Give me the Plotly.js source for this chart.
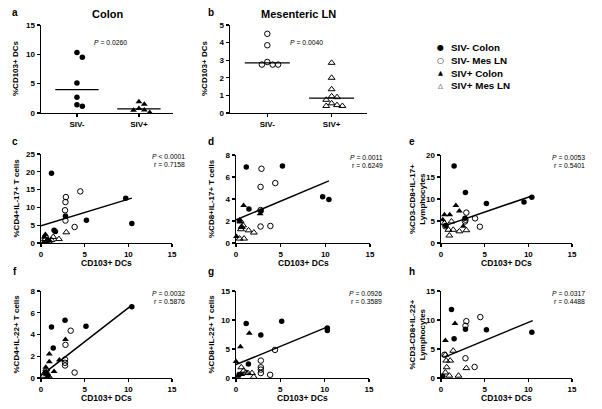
<!DOCTYPE html>
<html>
<head>
<meta charset="utf-8">
<script src="https://cdn.plot.ly/plotly-3.0.1.min.js"></script>
<style>
html, body {margin:0; padding:0; background:#fff;}
#plot {width:602px; height:409px;}
</style>
</head>
<body>
<div id="plot"></div>
<script>
// ---- a / b : %CD103+ DCs per group
const groupLabels = ['SIV-', 'SIV+'];
const colonNeg = [10.3, 9.5, 5.1, 2.7, 1.15, 1.4];
const colonPos = [1.9, 1.5, 0.45, 0.5, 0.75, 0.1];
const colonMedian = [4.0, 0.7];
const mesNeg = [4.5, 3.85, 2.75, 2.75, 2.75, 2.9];
const mesPos = [2.85, 2.0, 1.35, 0.95, 0.9, 0.75, 0.55, 0.45, 0.4, 0.4];
const mesMedian = [2.85, 0.85];
const pColon = '0.0260';
const pMes = '0.0040';

// ---- c..h : [CD103+ DCs, cytokine %] pairs
const cNegColon = [[1.2,19.6],[2.8,7.6],[5.2,6.4],[1.5,3.6],[1.65,3.2],[9.7,12.6],[10.4,5.5]];
const cNegMes = [[2.85,12.9],[2.8,11.5],[2.75,9.2],[2.8,6.3],[4.5,14.5],[3.85,4.5]];
const cPosColon = [[0.5,2.4],[0.4,1.6],[0.8,1.0],[0.6,0.4],[1.0,0.6],[0.3,0.2]];
const cPosMes = [[2.9,3.0],[1.4,1.7],[2.05,1.1],[0.5,2.0],[0.45,1.1],[0.7,0.7],[0.9,0.3],[1.2,0.8]];
const cFit = [[0, 10.4], [4.85, 12.6]];

const dNegColon = [[1.15,6.9],[5.2,7.0],[9.7,4.2],[10.4,3.95],[1.45,3.1],[2.8,2.9]];
const dNegMes = [[2.85,6.75],[4.4,5.45],[2.75,5.1],[2.75,3.0],[2.75,1.5],[3.85,1.55]];
const dPosColon = [[0.85,3.4],[2.7,2.65],[0.4,2.1],[0.05,0.6],[0.6,1.5],[0.45,1.9]];
const dPosMes = [[0.5,2.0],[0.65,1.45],[0.55,1.25],[0.8,1.6],[1.4,1.15],[2.0,0.95],[0.4,0.4],[0.9,0.4]];
const dFit = [[0, 10.4], [2.1, 5.65]];

const eNegColon = [[1.5,17.5],[2.8,11.5],[5.2,9.0],[9.5,9.3],[10.4,10.4],[2.75,5.6],[0.55,4.0]];
const eNegMes = [[2.9,6.9],[3.9,5.6],[2.75,4.9],[4.45,3.7],[2.8,5.3],[0.5,3.8]];
const ePosColon = [[1.7,8.5],[2.1,7.3],[1.0,6.4],[0.4,6.4],[0.2,5.3],[2.55,3.8]];
const ePosMes = [[1.2,4.9],[0.85,3.0],[1.4,3.0],[2.9,2.9],[2.1,2.65],[0.95,1.7],[0.4,4.5]];
const eFit = [[0.4, 10.4], [3.9, 10.7]];

const fNegColon = [[1.2,4.7],[2.75,5.3],[5.15,4.75],[10.4,6.55],[1.4,2.75],[0.8,0.2],[0.55,0.5]];
const fNegMes = [[3.4,4.35],[2.8,3.05],[2.75,1.7],[2.75,1.4],[2.75,1.15],[3.85,0.5]];
const fPosColon = [[2.8,3.55],[0.95,2.2],[0.95,1.5],[1.5,0.6],[2.1,1.65],[0.55,1.0]];
const fPosMes = [[0.55,0.6],[0.3,0.2],[0.7,0.35],[0.4,0.45],[0.9,0.15],[0.6,0.8]];
const fFit = [[0.3, 10.4], [0.4, 6.7]];

const gNegColon = [[1.15,9.4],[2.8,7.4],[5.15,9.8],[10.3,8.6],[10.3,8.2],[1.4,2.4],[0.35,0.6]];
const gNegMes = [[4.4,4.85],[2.8,3.0],[2.8,1.85],[2.8,1.45],[2.8,0.85],[3.85,0.55]];
const gPosColon = [[1.5,7.7],[0.5,5.4],[0.0,2.85],[0.65,0.6],[0.2,0.3]];
const gPosMes = [[0.6,1.85],[0.85,1.25],[1.1,0.95],[1.35,0.85],[1.8,0.85],[2.0,0.2]];
const gFit = [[0, 10.4], [2.3, 8.85]];

const hNegColon = [[1.2,11.8],[1.5,6.75],[2.8,8.4],[5.2,8.3],[10.4,7.9],[0.2,0.3]];
const hNegMes = [[2.8,9.0],[2.9,9.8],[4.5,10.5],[2.8,3.4],[3.85,1.9],[0.4,4.0]];
const hPosColon = [[1.6,9.4],[0.5,6.45]];
const hPosMes = [[1.4,4.7],[0.5,4.0],[0.6,3.0],[1.05,3.0],[0.65,1.85],[0.5,0.95],[0.95,0.4],[2.0,0.4],[2.9,1.7]];
const hFit = [[0.4, 10.5], [3.6, 9.9]];

const stats = {
  c: ['<i>P</i> < 0.0001', 'r = 0.7158'],
  d: ['<i>P</i> = 0.0011', 'r = 0.6249'],
  e: ['<i>P</i> = 0.0053', 'r = 0.5401'],
  f: ['<i>P</i> = 0.0032', 'r = 0.5876'],
  g: ['<i>P</i> = 0.0926', 'r = 0.3589'],
  h: ['<i>P</i> = 0.0317', 'r = 0.4488']
};
const yTitles = {
  c: '%CD4+IL-17+ T cells',
  d: '%CD8+IL-17+ T cells',
  e: '%CD3-CD8+IL-17+<br>Lymphocytes',
  f: '%CD4+IL-22+ T cells',
  g: '%CD8+IL-22+ T cells',
  h: '%CD3-CD8+IL-22+<br>Lymphocytes'
};
const legendLabels = ['SIV- Colon', 'SIV- Mes LN', 'SIV+ Colon', 'SIV+ Mes LN'];
const legendSymbols = ['\u25CF', '\u25CB', '\u25B2', '\u25B3'];

// ---------------------------------------------------------------
const W = 602, H = 409;
const F = 'Liberation Sans, Arial, sans-serif';
function px(x) { return x / W; }
function py(y) { return 1 - y / H; }

// plot boxes in pixels: [left, right, top, bottom]
const boxes = {
  a: [41, 173, 25, 113], b: [230, 367, 25, 113],
  c: [41, 172, 154, 243], d: [236, 370, 155, 243], e: [441, 572, 155, 243],
  f: [41, 172, 291, 378], g: [236, 369, 291, 378], h: [441, 572, 291, 378]
};
const panelIds = ['a', 'b', 'c', 'd', 'e', 'f', 'g', 'h'];

const symbols = ['circle', 'circle-open', 'triangle-up', 'triangle-up-open'];

const axisStyle = {
  showline: true, linecolor: '#000', linewidth: 1.4,
  ticks: 'outside', ticklen: 3, tickwidth: 1.2, tickcolor: '#000',
  showgrid: false, zeroline: false, fixedrange: true,
  tickfont: {family: F, size: 8, color: '#000', weight: 'bold'}
};

// simple beeswarm offset so dots with close values sit side by side
function swarm(vals, pxPerUnit, pxPerCat, size) {
  const placed = [];
  const off = new Array(vals.length).fill(0);
  const order = vals.map((v, i) => i).sort((a, b) => vals[b] - vals[a]);
  const cands = [0];
  for (let s = 1; s < 8; s++) cands.push(s * size, -s * size);
  order.forEach(i => {
    const y = vals[i] * pxPerUnit;
    let dx = 0;
    for (const c of cands) {
      if (placed.every(p => Math.hypot(p[0] - c, p[1] - y) >= size)) { dx = c; break; }
    }
    placed.push([dx, y]);
    off[i] = dx / pxPerCat;
  });
  return off;
}

function markerOf(k) {
  const open = k % 2 === 1;
  return {
    symbol: symbols[k], size: k >= 2 ? 6 : 5.5, color: '#000',
    line: {width: open ? 1 : 0, color: '#000'}
  };
}

const traces = [];
const layout = {
  width: W, height: H,
  margin: {l: 0, r: 0, t: 0, b: 0},
  paper_bgcolor: '#fff', plot_bgcolor: '#fff',
  showlegend: false,
  font: {family: F, color: '#000'},
  annotations: []
};

panelIds.forEach((id, i) => {
  const n = i === 0 ? '' : String(i + 1);
  const b = boxes[id];
  layout['xaxis' + n] = Object.assign({}, axisStyle, {
    domain: [px(b[0]), px(b[1])], anchor: 'y' + n
  });
  layout['yaxis' + n] = Object.assign({}, axisStyle, {
    domain: [py(b[3]), py(b[2])], anchor: 'x' + n
  });
});

function stepList(max, step) {
  const out = [];
  for (let v = 0; v <= max + 1e-9; v += step) out.push(v);
  return out;
}

// ---- a and b: dot plots with medians
function dotPanel(n, box, neg, pos, med, yMax, dtick, negSym, posSym) {
  const xr = [-0.58, 1.55];
  const pxPerCat = (box[1] - box[0]) / (xr[1] - xr[0]);
  const pxPerUnit = (box[3] - box[2]) / yMax;
  const ax = 'x' + n, ay = 'y' + n;
  [[neg, 0, negSym], [pos, 1, posSym]].forEach(([vals, c, k]) => {
    const off = swarm(vals, pxPerUnit, pxPerCat, 5.4);
    traces.push({
      x: vals.map((v, j) => c + off[j]), y: vals,
      xaxis: ax, yaxis: ay, mode: 'markers', cliponaxis: false,
      marker: markerOf(k), hoverinfo: 'y'
    });
    traces.push({
      x: [c - 0.35, c + 0.35], y: [med[c], med[c]],
      xaxis: ax, yaxis: ay, mode: 'lines', cliponaxis: false,
      line: {color: '#000', width: 1.2}, hoverinfo: 'skip'
    });
  });
  Object.assign(layout['xaxis' + n], {range: xr, tickvals: [0, 1], ticktext: groupLabels});
  Object.assign(layout['yaxis' + n], {range: [0, yMax], tickvals: stepList(yMax, dtick)});
}

dotPanel('', boxes.a, colonNeg, colonPos, colonMedian, 15, 5, 0, 2);
dotPanel('2', boxes.b, mesNeg, mesPos, mesMedian, 5, 1, 1, 3);

// ---- c..h: correlation panels
const scatterData = {
  c: [cNegColon, cNegMes, cPosColon, cPosMes, cFit, 25, 5],
  d: [dNegColon, dNegMes, dPosColon, dPosMes, dFit, 8, 2],
  e: [eNegColon, eNegMes, ePosColon, ePosMes, eFit, 20, 5],
  f: [fNegColon, fNegMes, fPosColon, fPosMes, fFit, 8, 2],
  g: [gNegColon, gNegMes, gPosColon, gPosMes, gFit, 15, 5],
  h: [hNegColon, hNegMes, hPosColon, hPosMes, hFit, 15, 5]
};

['c', 'd', 'e', 'f', 'g', 'h'].forEach((id, i) => {
  const n = String(i + 3);
  const ax = 'x' + n, ay = 'y' + n;
  const sd = scatterData[id];
  for (let k = 0; k < 4; k++) {
    traces.push({
      x: sd[k].map(p => p[0]), y: sd[k].map(p => p[1]),
      xaxis: ax, yaxis: ay, mode: 'markers', cliponaxis: false,
      name: legendLabels[k], marker: markerOf(k)
    });
  }
  traces.push({
    x: sd[4][0], y: sd[4][1], xaxis: ax, yaxis: ay, mode: 'lines',
    cliponaxis: false, line: {color: '#000', width: 1.5}, hoverinfo: 'skip'
  });
  Object.assign(layout['xaxis' + n], {range: [0, 15], tickvals: [0, 5, 10, 15]});
  Object.assign(layout['yaxis' + n], {range: [0, sd[5]], tickvals: stepList(sd[5], sd[6])});

  const b = boxes[id];
  // stats text, top right
  stats[id].forEach((t, j) => {
    layout.annotations.push({
      text: t, xref: 'paper', yref: 'paper', x: px(b[1] + 15), y: py(b[2] + 2 + j * 8),
      xanchor: 'right', yanchor: 'middle', showarrow: false,
      font: {family: F, size: 6.8, color: '#000'}
    });
  });
  // x title
  layout.annotations.push({
    text: 'CD103+ DCs', xref: 'paper', yref: 'paper',
    x: px((b[0] + b[1]) / 2), y: py(b[3] + 20), xanchor: 'center', yanchor: 'middle',
    showarrow: false, font: {family: F, size: 8.5, color: '#000', weight: 'bold'}
  });
  // y title
  const twoLine = yTitles[id].indexOf('<br>') >= 0;
  layout.annotations.push({
    text: yTitles[id], xref: 'paper', yref: 'paper', textangle: -90,
    x: px(b[0] - (twoLine ? 24 : 25)), y: py((b[2] + b[3]) / 2), xanchor: 'center', yanchor: 'middle',
    showarrow: false, font: {family: F, size: 8, color: '#000', weight: 'bold'}
  });
});

// ---- a/b titles, y titles, P values
[['a', 'Colon', pColon, 92], ['b', 'Mesenteric LN', pMes, 288]].forEach(([id, title, p, pxLeft]) => {
  const b = boxes[id];
  layout.annotations.push({
    text: title, xref: 'paper', yref: 'paper', x: px((b[0] + b[1]) / 2), y: py(14),
    xanchor: 'center', yanchor: 'middle', showarrow: false,
    font: {family: F, size: 11, color: '#000', weight: 'bold'}
  });
  layout.annotations.push({
    text: '<i>P</i> = ' + p, xref: 'paper', yref: 'paper', x: px(pxLeft), y: py(43),
    xanchor: 'left', yanchor: 'middle', showarrow: false,
    font: {family: F, size: 6.8, color: '#000'}
  });
  layout.annotations.push({
    text: '%CD103+ DCs', xref: 'paper', yref: 'paper', textangle: -90,
    x: px(b[0] - 25), y: py((b[2] + b[3]) / 2), xanchor: 'center', yanchor: 'middle',
    showarrow: false, font: {family: F, size: 8, color: '#000', weight: 'bold'}
  });
});

// ---- panel letters
const letterPos = {a: [15, 13], b: [211, 13], c: [15, 142], d: [211, 142], e: [412, 142],
  f: [15, 271], g: [211, 271], h: [412, 271]};
panelIds.forEach(id => {
  layout.annotations.push({
    text: id, xref: 'paper', yref: 'paper', x: px(letterPos[id][0]), y: py(letterPos[id][1]),
    xanchor: 'center', yanchor: 'middle', showarrow: false,
    font: {family: F, size: 10, color: '#000', weight: 'bold'}
  });
});

// ---- legend
legendLabels.forEach((lab, k) => {
  const y = py(47 + k * 13);
  layout.annotations.push({
    text: legendSymbols[k], xref: 'paper', yref: 'paper', x: px(440), y: y,
    xanchor: 'center', yanchor: 'middle', showarrow: false,
    font: {family: 'DejaVu Sans', size: k >= 2 ? 6.5 : 8, color: '#000'}
  });
  layout.annotations.push({
    text: lab, xref: 'paper', yref: 'paper', x: px(449), y: y,
    xanchor: 'left', yanchor: 'middle', showarrow: false,
    font: {family: F, size: 9.8, color: '#000', weight: 'bold'}
  });
});

const config = {displayModeBar: false, responsive: false, staticPlot: true};
Plotly.newPlot('plot', traces, layout, config);
</script>
</body>
</html>
